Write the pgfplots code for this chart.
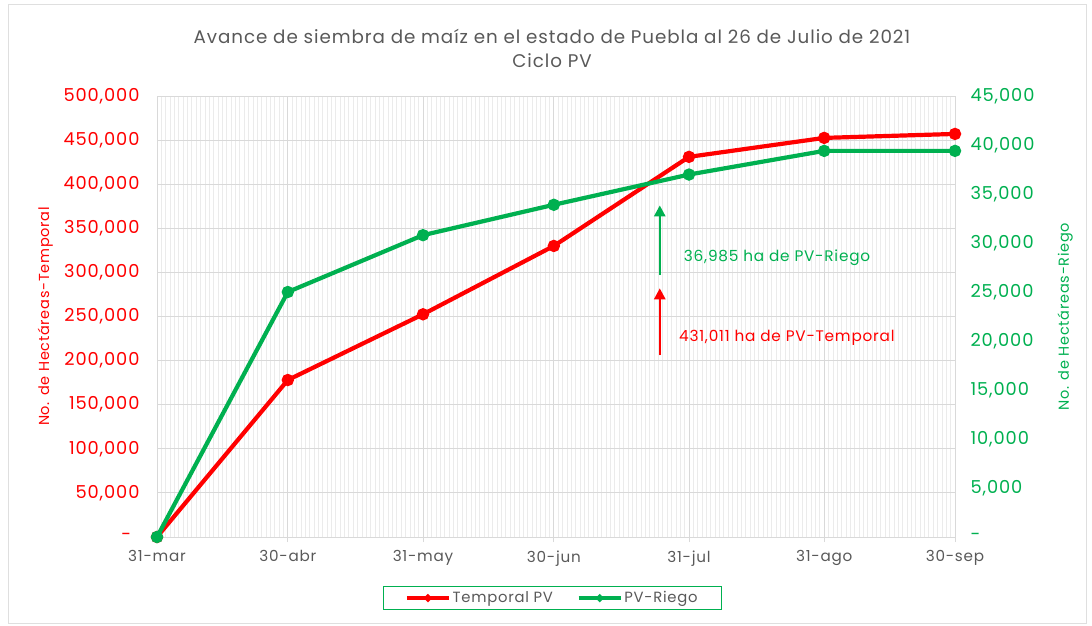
\documentclass[border=0pt]{standalone}
\usepackage{pgfplots}
\pgfplotsset{compat=1.18}
\usepackage{pgfplotstable}
\usepackage{fontspec}
\setmainfont{Poppins}[LetterSpace=5]
\usetikzlibrary{arrows.meta}
\definecolor{cred}{HTML}{FF0000}
\definecolor{cgreen}{HTML}{00B050}
\definecolor{ctext}{HTML}{595959}
\definecolor{cgrid}{HTML}{D9D9D9}
\definecolor{cminor}{HTML}{EBEBEB}

\pgfplotstableread{
day temporal riego
0 0 0
30 178000 25000
61 252500 30800
91 330000 33900
122 431011 36985
153 452500 39400
183 457000 39400
}\datatable

\begin{document}
\begin{tikzpicture}[x=1pt,y=1pt]
\useasboundingbox (0,0) rectangle (1092,625);
\draw[gray!25, line width=1pt] (8,2) rectangle (1086,620);
\node[text=ctext, font=\fontsize{18.3}{24}\selectfont, align=center] at (552,577)
  {Avance de siembra de maíz en el estado de Puebla al 26 de Julio de 2021\\Ciclo PV};

\begin{axis}[
  at={(157pt,88pt)}, anchor=south west, scale only axis,
  width=798pt, height=441pt,
  xmin=0, xmax=183, ymin=0, ymax=500000,
  scaled y ticks=false,
  axis x line*=bottom, axis y line*=left,
  x axis line style={draw=cgrid, line width=1pt},
  y axis line style={draw=none},
  xtick={0,30,61,91,122,153,183},
  xticklabels={31-mar,30-abr,31-may,30-jun,31-jul,31-ago,30-sep},
  minor xtick={1,...,182},
  minor tick length=0pt,
  xtick align=outside, major tick length=5pt,
  xtick style={draw=cgrid, line width=1pt},
  ytick={0,50000,...,500000},
  yticklabels={{\makebox[18pt][l]{-}},{50,000},{100,000},{150,000},{200,000},{250,000},{300,000},{350,000},{400,000},{450,000},{500,000}},
  ytick style={draw=none},
  grid=both,
  major grid style={draw=cgrid, line width=1pt},
  minor grid style={draw=cminor, line width=0.8pt},
  yticklabel style={text=cred, xshift=-14pt, font=\fontsize{17.8}{19}\selectfont},
  xticklabel style={text=ctext, yshift=-5pt, font=\fontsize{15.2}{17}\selectfont},
  ylabel={No. de Hectáreas-Temporal},
  ylabel style={at={(axis description cs:-0.14,0.5)}, anchor=center, text=cred, font=\fontsize{14.5}{16}\selectfont},
]
\addplot[cred, line width=4.2pt, mark=*, mark size=4pt] table[x=day, y=temporal] {\datatable};
\draw[-{Triangle[width=11pt,length=11pt]}, cgreen, line width=2.5pt] (axis cs:115.3,297000) -- (axis cs:115.3,376000);
\draw[-{Triangle[width=11pt,length=11pt]}, cred, line width=2.5pt] (axis cs:115.3,206000) -- (axis cs:115.3,282000);
\node[anchor=west, inner sep=0pt, text=cgreen, font=\fontsize{15.3}{17}\selectfont] at (axis cs:120.8,316300) {36,985 ha de PV-Riego};
\node[anchor=west, inner sep=0pt, text=cred, font=\fontsize{15.3}{17}\selectfont] at (axis cs:119.7,225600) {431,011 ha de PV-Temporal};
\end{axis}

\begin{axis}[
  at={(157pt,88pt)}, anchor=south west, scale only axis,
  width=798pt, height=441pt,
  xmin=0, xmax=183, ymin=0, ymax=45000,
  scaled y ticks=false,
  axis x line=none, axis y line*=right,
  y axis line style={draw=none},
  ytick={0,5000,...,45000},
  yticklabels={{-},{5,000},{10,000},{15,000},{20,000},{25,000},{30,000},{35,000},{40,000},{45,000}},
  ytick style={draw=none},
  yticklabel style={text=cgreen, font=\fontsize{17.8}{19}\selectfont, xshift=12pt},
  ylabel={No. de Hectáreas-Riego},
  ylabel style={at={(axis description cs:1.138,0.5)}, anchor=center, text=cgreen, font=\fontsize{14.5}{16}\selectfont},
  legend columns=2,
  legend style={at={(0.4955,-0.1385)}, anchor=center, draw=cgreen, line width=1pt,
    font=\fontsize{14.8}{17}\selectfont, text=ctext, inner xsep=21.5pt, inner ysep=3pt,
    nodes={inner xsep=2pt},
    /tikz/every even column/.append style={column sep=22pt}},
  legend image code/.code={\draw[#1, line width=3.5pt, mark size=1.8pt, mark repeat=2, mark phase=2] plot coordinates {(0pt,0pt) (21pt,0pt) (42pt,0pt)};},
]
\addlegendimage{cred, mark=*}
\addlegendentry{Temporal PV}
\addplot[cgreen, line width=4.2pt, mark=*, mark size=4pt] table[x=day, y=riego] {\datatable};
\addlegendentry{PV-Riego}
\end{axis}
\end{tikzpicture}
\end{document}
